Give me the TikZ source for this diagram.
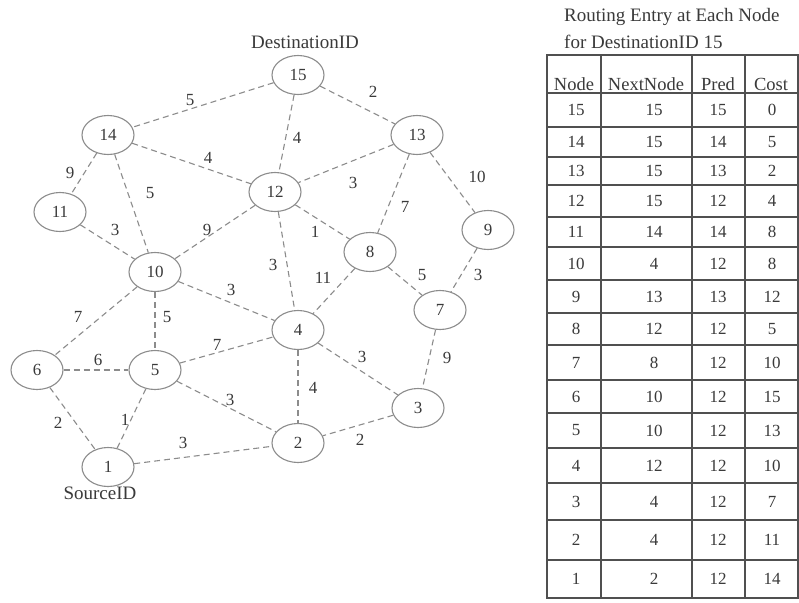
\documentclass[tikz,border=0pt]{standalone}
\usepackage{fontspec}
\setmainfont{Liberation Serif}
\usetikzlibrary{shapes.geometric}
\definecolor{edgegray}{HTML}{8C8C8C}
\definecolor{txtgray}{HTML}{3A3A3A}
\definecolor{tabgray}{HTML}{505050}
\tikzset{
  vtx/.style={ellipse, draw=edgegray, line width=1.1pt, minimum width=52pt, minimum height=39pt, inner sep=0pt, text=txtgray, font=\fontsize{17}{19}\selectfont},
  lnk/.style={draw=edgegray, line width=1.1pt, dash pattern=on 6pt off 4pt},
  wt/.style={text=txtgray, inner sep=0pt, font=\fontsize{17}{19}\selectfont},
  captxt/.style={text=txtgray, inner sep=0pt, font=\fontsize{19}{21}\selectfont},
  tline/.style={draw=tabgray, line width=1.2pt},
  thead/.style={text=txtgray, inner sep=0pt, font=\fontsize{18.5}{20}\selectfont},
  tcell/.style={text=txtgray, inner sep=0pt, font=\fontsize{17}{19}\selectfont},
}
\begin{document}
\begin{tikzpicture}[x=1pt,y=-1pt]
\useasboundingbox (0,0) rectangle (799,602);
\fill[white] (0,0) rectangle (799,602);
% vertices
\node[vtx] (n15) at (298,75) {15};
\node[vtx] (n14) at (108,135) {14};
\node[vtx] (n13) at (417,135) {13};
\node[vtx] (n12) at (275,192) {12};
\node[vtx] (n11) at (60,212) {11};
\node[vtx] (n9) at (488,230) {9};
\node[vtx] (n8) at (370,252) {8};
\node[vtx] (n10) at (155,272) {10};
\node[vtx] (n7) at (440,310) {7};
\node[vtx] (n4) at (298,330) {4};
\node[vtx] (n6) at (37,370) {6};
\node[vtx] (n5) at (155,370) {5};
\node[vtx] (n3) at (418,408) {3};
\node[vtx] (n2) at (298,443) {2};
\node[vtx] (n1) at (108,467) {1};
\node[captxt] (dst) at (305,42) {DestinationID};
\node[captxt] (src) at (100,493) {SourceID};
% edges
\foreach \a/\b in {15/14,15/13,15/12,14/12,14/11,14/10,11/10,12/10,13/12,13/8,13/9,12/8,12/4,8/4,8/7,9/7,10/4,10/6,10/5,5/4,6/5,5/2,5/1,6/1,1/2,4/2,4/3,7/3,3/2}
  \draw[lnk] (n\a) -- (n\b);
% weights
\node[wt] (w1) at (190,100) {5};
\node[wt] (w2) at (373,92) {2};
\node[wt] (w3) at (297,138) {4};
\node[wt] (w4) at (208,158) {4};
\node[wt] (w5) at (70,173) {9};
\node[wt] (w6) at (150,193) {5};
\node[wt] (w7) at (115,230) {3};
\node[wt] (w8) at (207,230) {9};
\node[wt] (w9) at (353,183) {3};
\node[wt] (w10) at (405,207) {7};
\node[wt] (w11) at (477,177) {10};
\node[wt] (w12) at (315,232) {1};
\node[wt] (w13) at (273,265) {3};
\node[wt] (w14) at (323,278) {11};
\node[wt] (w15) at (422,275) {5};
\node[wt] (w16) at (478,275) {3};
\node[wt] (w17) at (231,290) {3};
\node[wt] (w18) at (78,317) {7};
\node[wt] (w19) at (167,317) {5};
\node[wt] (w20) at (217,345) {7};
\node[wt] (w21) at (98,360) {6};
\node[wt] (w22) at (230,400) {3};
\node[wt] (w23) at (125,420) {1};
\node[wt] (w24) at (58,423) {2};
\node[wt] (w25) at (183,443) {3};
\node[wt] (w26) at (313,388) {4};
\node[wt] (w27) at (362,357) {3};
\node[wt] (w28) at (447,358) {9};
\node[wt] (w29) at (360,440) {2};
% table title
\node[captxt, anchor=west] (t1) at (564,17) {Routing Entry at Each Node};
\node[captxt, anchor=west] (t2) at (564,42) {for DestinationID 15};
% table grid
\draw[tline] (547,55) rectangle (798,598);
\foreach \x in {601,692,745} \draw[tline] (\x,55) -- (\x,598);
\foreach \y in {93,127,157,185,217,247,280,313,345,380,413,448,483,520,560} \draw[tline] (547,\y) -- (798,\y);
% header
\node[thead] (h1) at (574,84) {Node};
\node[thead] (h2) at (646,84) {NextNode};
\node[thead] (h3) at (718,84) {Pred};
\node[thead] (h4) at (771,84) {Cost};
% rows
\foreach \y/\a/\b/\c/\d in {110/15/15/15/0, 142/14/15/14/5, 171/13/15/13/2, 201/12/15/12/4, 232/11/14/14/8, 263.5/10/4/12/8, 296.5/9/13/13/12, 329/8/12/12/5, 362.5/7/8/12/10, 396.5/6/10/12/15, 430.5/5/10/12/13, 465.5/4/12/12/10, 501.5/3/4/12/7, 540/2/4/12/11, 579/1/2/12/14}
{
  \node[tcell] (ra\a) at (576,\y) {\a};
  \node[tcell] (rb\a) at (654,\y) {\b};
  \node[tcell] (rc\a) at (718,\y) {\c};
  \node[tcell] (rd\a) at (772,\y) {\d};
}
\end{tikzpicture}
\end{document}
